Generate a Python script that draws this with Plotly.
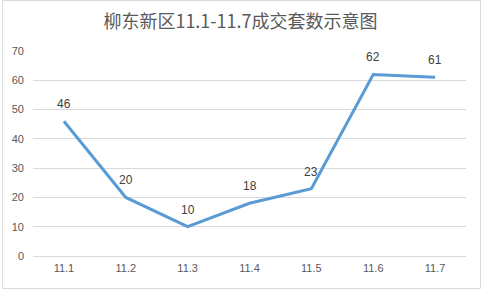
import plotly.graph_objects as go

categories = ["11.1", "11.2", "11.3", "11.4", "11.5", "11.6", "11.7"]
values = [46, 20, 10, 18, 23, 62, 61]
y_ticks = [0, 10, 20, 30, 40, 50, 60, 70]
title_text = "柳东新区11.1-11.7成交套数示意图"

W, H = 481, 289
L, R, T, B = 31, 15, 51, 33
pw, ph = W - L - R, H - T - B

fig = go.Figure()
fig.add_trace(go.Scatter(
    x=categories, y=values, mode="lines",
    line=dict(color="#5B9BD5", width=3),
    hoverinfo="skip",
))

annotations = [dict(x=i, y=v, xref="x", yref="y", text=str(v), showarrow=False,
                    yshift=17, font=dict(color="#404040", size=12, family="Liberation Sans"))
               for i, v in enumerate(values)]

fig.update_layout(
    width=W, height=H,
    margin=dict(l=L, r=R, t=T, b=B),
    paper_bgcolor="white", plot_bgcolor="white",
    showlegend=False,
    annotations=annotations,
    title=dict(text=title_text, x=0.5, xanchor="center", y=1 - 22 / H, yanchor="middle",
               font=dict(family="Noto Sans CJK SC", size=18, color="#595959")),
    xaxis=dict(type="category", range=[-0.5, 6.5], showgrid=False, zeroline=False,
               showline=False, ticks="", tickfont=dict(family="Liberation Sans", size=11, color="#595959"),
               ticklabelstandoff=4),
    yaxis=dict(range=[0, 70], tickvals=y_ticks, showgrid=True, gridcolor="#D9D9D9", gridwidth=1,
               zeroline=True, zerolinecolor="#D9D9D9", zerolinewidth=1, showline=False, ticks="",
               tickfont=dict(family="Liberation Sans", size=11, color="#595959"),
               ticklabelstandoff=8),
    shapes=[dict(type="rect", xref="paper", yref="paper",
                 x0=(0.5 - L) / pw, x1=(W - 0.5 - L) / pw,
                 y0=-(B - 0.5) / ph, y1=(H - 0.5 - B) / ph,
                 line=dict(color="#D9D9D9", width=1), layer="below")],
)

fig.write_html("out.html")
